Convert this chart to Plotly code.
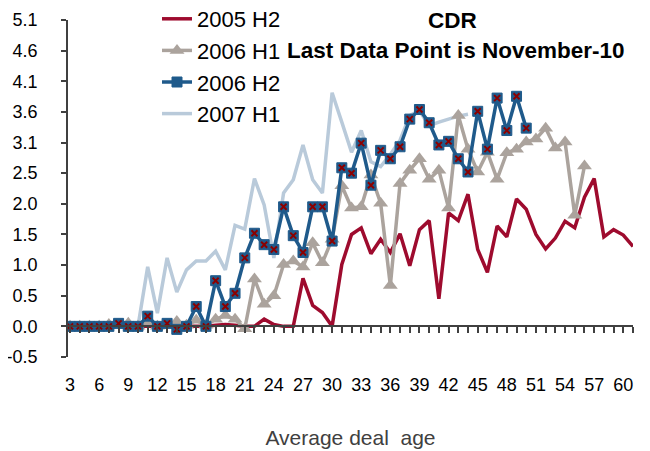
import plotly.graph_objects as go

# Average deal age (months)
ages = list(range(3, 62))

series_names = ["2005 H2", "2006 H1", "2006 H2", "2007 H1"]

cdr_2005_h2 = [0, 0, 0, 0, 0, 0, 0, 0, 0, 0, 0, 0, 0, 0, 0,
               0.02, 0.03, 0.02, 0, 0, 0.12, 0.03, 0, 0, 0.80, 0.35, 0.23, 0,
               1.03, 1.53, 1.64, 1.21, 1.45, 1.23, 1.54, 1.01, 1.61, 1.76,
               0.46, 1.89, 1.76, 2.20, 1.28, 0.90, 1.67, 1.49, 2.12, 1.95,
               1.53, 1.29, 1.47, 1.75, 1.64, 2.15, 2.46, 1.49, 1.61, 1.52, 1.33]

cdr_2006_h1 = [0, 0, 0, 0, 0.03, 0.02, 0.05, 0, 0.08, 0, 0.02, 0.08, 0.02,
               0.10, 0.02, 0.12, 0.18, 0.12, -0.04, 0.79, 0.37, 0.51, 1.03,
               1.09, 0.99, 1.39, 1.06, 1.45, 2.34, 1.97, 1.99, 2.52, 2.05,
               0.68, 2.38, 2.60, 2.79, 2.45, 2.60, 1.97, 3.51, 2.95, 2.57,
               2.90, 2.45, 2.89, 2.95, 3.07, 3.12, 3.30, 2.97, 3.07, 1.85, 2.67]

cdr_2006_h2 = [0, 0, 0, 0, 0, 0.05, 0, 0, 0.17, 0, 0.05, -0.05, 0, 0.33, 0,
               0.76, 0.33, 0.55, 1.14, 1.55, 1.36, 1.28, 1.99, 1.51, 1.23,
               1.99, 1.99, 1.42, 2.64, 2.55, 3.05, 2.35, 2.93, 2.79, 2.99,
               3.45, 3.61, 3.39, 3.02, 3.08, 2.79, 2.57, 3.58, 2.95, 3.80,
               3.26, 3.83, 3.30]

cdr_2007_h1 = [0, 0, 0, 0, 0, 0, 0, 0, 0.99, 0.22, 1.14, 0.57, 0.94, 1.09,
               1.09, 1.25, 0.94, 1.68, 1.62, 2.46, 2.02, 1.14, 2.22, 2.44,
               3.02, 2.44, 2.22, 3.89, 3.40, 2.90, 3.26, 2.74, 2.66, 2.86,
               3.10, 3.51, 3.59, 3.34, 3.40, 3.45, 3.50, 3.53]

y_tick_vals = [k * 0.51 for k in range(-1, 11)]
y_tick_text = ["-0.5", "0.0", "0.5", "1.0", "1.5", "2.0", "2.5",
               "3.1", "3.6", "4.1", "4.6", "5.1"]
x_tick_text = [str(a) if a % 3 == 0 else "" for a in ages]

RED = "#9E0B2E"
GRAY = "#ABA39D"
BLUE = "#1F5A8B"
LIGHT = "#B9CADA"
AXIS = "#404040"
FONT = "Arial, Liberation Sans, sans-serif"

fig = go.Figure()

fig.add_trace(go.Scatter(
    x=ages[:len(cdr_2007_h1)], y=cdr_2007_h1, name=series_names[3],
    mode="lines", line=dict(color=LIGHT, width=3.5), legendrank=4))

fig.add_trace(go.Scatter(
    x=ages[:len(cdr_2005_h2)], y=cdr_2005_h2, name=series_names[0],
    mode="lines", line=dict(color=RED, width=3.5), legendrank=1))

fig.add_trace(go.Scatter(
    x=ages[:len(cdr_2006_h1)], y=cdr_2006_h1, name=series_names[1],
    mode="lines+markers", line=dict(color=GRAY, width=3.5),
    marker=dict(symbol="triangle-up", size=13, color=GRAY), legendrank=2))

fig.add_trace(go.Scatter(
    x=ages[:len(cdr_2006_h2)], y=cdr_2006_h2, name=series_names[2],
    mode="lines+markers", line=dict(color=BLUE, width=3.5),
    marker=dict(symbol="square", size=10, color=BLUE,
                line=dict(color=BLUE, width=1)),
    legendgroup="h2", legendrank=3))

fig.add_trace(go.Scatter(
    x=ages[:len(cdr_2006_h2)], y=cdr_2006_h2, name=series_names[2],
    mode="markers", showlegend=False, hoverinfo="skip",
    marker=dict(symbol="x-thin", size=6, color="#8B0000",
                line=dict(color="#8B0000", width=2)),
    legendgroup="h2"))

# the page adds an 8px body margin, so the plot box is offset to compensate
fig.update_layout(
    width=650, height=451,
    margin=dict(l=60, r=25, t=12, b=102, autoexpand=False),
    paper_bgcolor="white", plot_bgcolor="white",
    font=dict(family=FONT, size=18, color="black"),
    showlegend=True,
    legend=dict(x=(157 - 68) / 565, y=1 + 22 / 337, xanchor="left",
                yanchor="top", bgcolor="rgba(0,0,0,0)",
                font=dict(size=22, color="black"),
                tracegroupgap=0, traceorder="normal"),
    xaxis=dict(
        range=[2.79, 61], anchor="free", position=0.51 / 5.61,
        tickmode="array", tickvals=ages, ticktext=x_tick_text,
        ticks="outside", ticklen=6, tickwidth=1.5, tickcolor=AXIS,
        showline=True, linecolor=AXIS, linewidth=1.5,
        showgrid=False, zeroline=False, ticklabelstandoff=36,
        tickfont=dict(size=18, color="black"), tickangle=0,
        title=dict(text="Average deal\u00a0 age",
                   font=dict(size=21, color="#404040"), standoff=36),
        automargin=False),
    yaxis=dict(
        range=[-0.51, 5.1], tickmode="array", tickvals=y_tick_vals,
        ticktext=y_tick_text, ticks="outside", ticklen=5, tickwidth=1.5,
        tickcolor=AXIS, showline=True, linecolor=AXIS, linewidth=1.5,
        showgrid=False, zeroline=False, ticklabelstandoff=20,
        tickfont=dict(size=18, color="black"), automargin=False),
    annotations=[
        dict(text="<b>CDR</b>", xref="paper", yref="paper",
             x=(453 - 68) / 565, y=1.0, xanchor="center",
             yanchor="middle", showarrow=False,
             font=dict(size=22.5, color="black")),
        dict(text="<b>Last Data Point is November-10</b>", xref="paper",
             yref="paper", x=(456 - 68) / 565, y=1 - 31 / 337,
             xanchor="center", yanchor="middle", showarrow=False,
             font=dict(size=22.5, color="black")),
    ],
)

fig.write_html("out.html")
